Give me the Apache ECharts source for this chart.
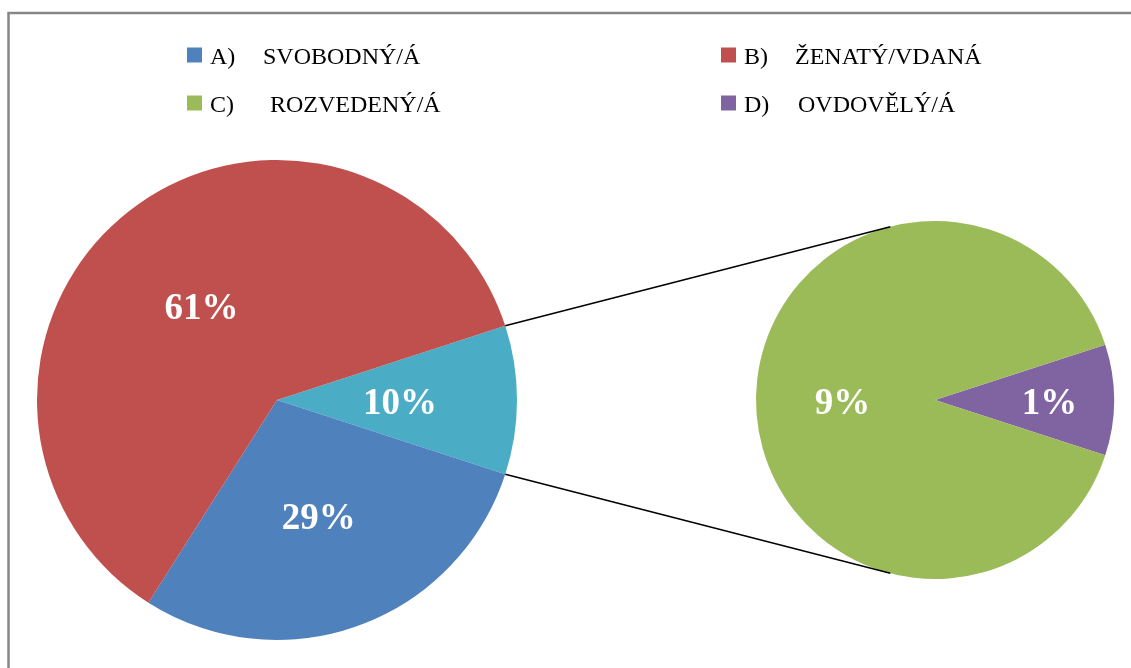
<!DOCTYPE html>
<html>
<head>
<meta charset="utf-8">
<script src="https://cdn.jsdelivr.net/npm/echarts@6/dist/echarts.min.js"></script>
<style>
  html, body { margin: 0; padding: 0; background: #fff; }
  #chart { width: 1131px; height: 668px; }
</style>
</head>
<body>
<div id="chart"></div>
<script>
// legend letters + categories
const letters = ['A)', 'B)', 'C)', 'D)']
const categories = ['SVOBODNÝ/Á', 'ŽENATÝ/VDANÁ', 'ROZVEDENÝ/Á', 'OVDOVĚLÝ/Á']
const colors = ['#4F81BD', '#C0504D', '#9BBB59', '#8064A2']
// values in % ; A and B stay in the main pie, C and D go to the second pie
const mainValues = [29, 61]
const secondValues = [9, 1]
const otherName = 'Ostatní'
const otherColor = '#4BACC6'

const serif = "'Liberation Serif', 'Times New Roman', serif"
const mainCenter = [277, 400]
const mainRadius = 240
const subCenter = [935, 400]
const subRadius = 179

const otherValue = secondValues.reduce((a, b) => a + b, 0)
const mainTotal = otherValue + mainValues.reduce((a, b) => a + b, 0)
// "other" slice centred on 3 o'clock
const mainStart = (otherValue / mainTotal) * 180
const subStart = (secondValues[1] / otherValue) * 180

// line from edge of the "other" slice, tangent to the second pie
function connector(sign) {
  const a = (mainStart * Math.PI) / 180
  const p = [mainCenter[0] + mainRadius * Math.cos(a), mainCenter[1] - sign * mainRadius * Math.sin(a)]
  const dx = p[0] - subCenter[0]
  const dy = p[1] - subCenter[1]
  const d = Math.hypot(dx, dy)
  const base = Math.atan2(dy, dx)
  const off = Math.acos(subRadius / d)
  const pts = [base + off, base - off].map((t) => [
    subCenter[0] + subRadius * Math.cos(t),
    subCenter[1] + subRadius * Math.sin(t),
  ])
  const q = sign > 0
    ? (pts[0][1] < pts[1][1] ? pts[0] : pts[1])
    : (pts[0][1] > pts[1][1] ? pts[0] : pts[1])
  return {
    type: 'line',
    z: 10,
    shape: { x1: p[0], y1: p[1], x2: q[0], y2: q[1] },
    style: { stroke: '#000', lineWidth: 1.5 },
  }
}

const legendPos = [[187, 40], [721, 40], [187, 88], [721, 88]]
const letterWidth = [53, 51, 60, 54]

const labelStyle = {
  show: true,
  position: 'inside',
  formatter: '{c}%',
  color: '#fff',
  fontFamily: serif,
  fontSize: 37,
  fontWeight: 'bold',
  offset: [0, 4],
}

const chart = echarts.init(document.getElementById('chart'))
chart.setOption({
  animation: false,
  backgroundColor: '#fff',
  legend: categories.map((name, i) => ({
    data: [name],
    left: legendPos[i][0],
    top: legendPos[i][1],
    padding: 0,
    icon: 'rect',
    itemWidth: 15,
    itemHeight: 15,
    selectedMode: false,
    formatter: (n) => `{l|${letters[i]}}{t|${n}}`,
    textStyle: {
      fontFamily: serif,
      fontSize: 24,
      color: '#000',
      rich: {
        l: { width: letterWidth[i], fontFamily: serif, fontSize: 24, lineHeight: 24, color: '#000', padding: [6, 0, 0, 3] },
        t: { fontFamily: serif, fontSize: 24, lineHeight: 24, color: '#000', padding: [6, 0, 0, 0] },
      },
    },
  })),
  graphic: [
    {
      type: 'rect',
      shape: { x: 8.5, y: 13, width: 1300, height: 800 },
      style: { fill: 'none', stroke: '#878787', lineWidth: 2.5 },
    },
    connector(1),
    connector(-1),
  ],
  series: [
    {
      type: 'pie',
      center: mainCenter,
      radius: mainRadius,
      startAngle: mainStart,
      clockwise: true,
      silent: true,
      avoidLabelOverlap: false,
      label: labelStyle,
      labelLine: { show: false },
      itemStyle: { borderWidth: 0 },
      data: [
        { name: otherName, value: otherValue, itemStyle: { color: otherColor } },
        { name: categories[0], value: mainValues[0], itemStyle: { color: colors[0] } },
        { name: categories[1], value: mainValues[1], itemStyle: { color: colors[1] }, label: { offset: [0, 7] } },
      ],
    },
    {
      type: 'pie',
      center: subCenter,
      radius: subRadius,
      startAngle: subStart,
      clockwise: true,
      silent: true,
      avoidLabelOverlap: false,
      label: labelStyle,
      labelLine: { show: false },
      itemStyle: { borderWidth: 0 },
      data: [
        { name: categories[3], value: secondValues[1], itemStyle: { color: colors[3] }, label: { offset: [22, 4] } },
        { name: categories[2], value: secondValues[0], itemStyle: { color: colors[2] } },
      ],
    },
  ],
})
</script>
</body>
</html>
